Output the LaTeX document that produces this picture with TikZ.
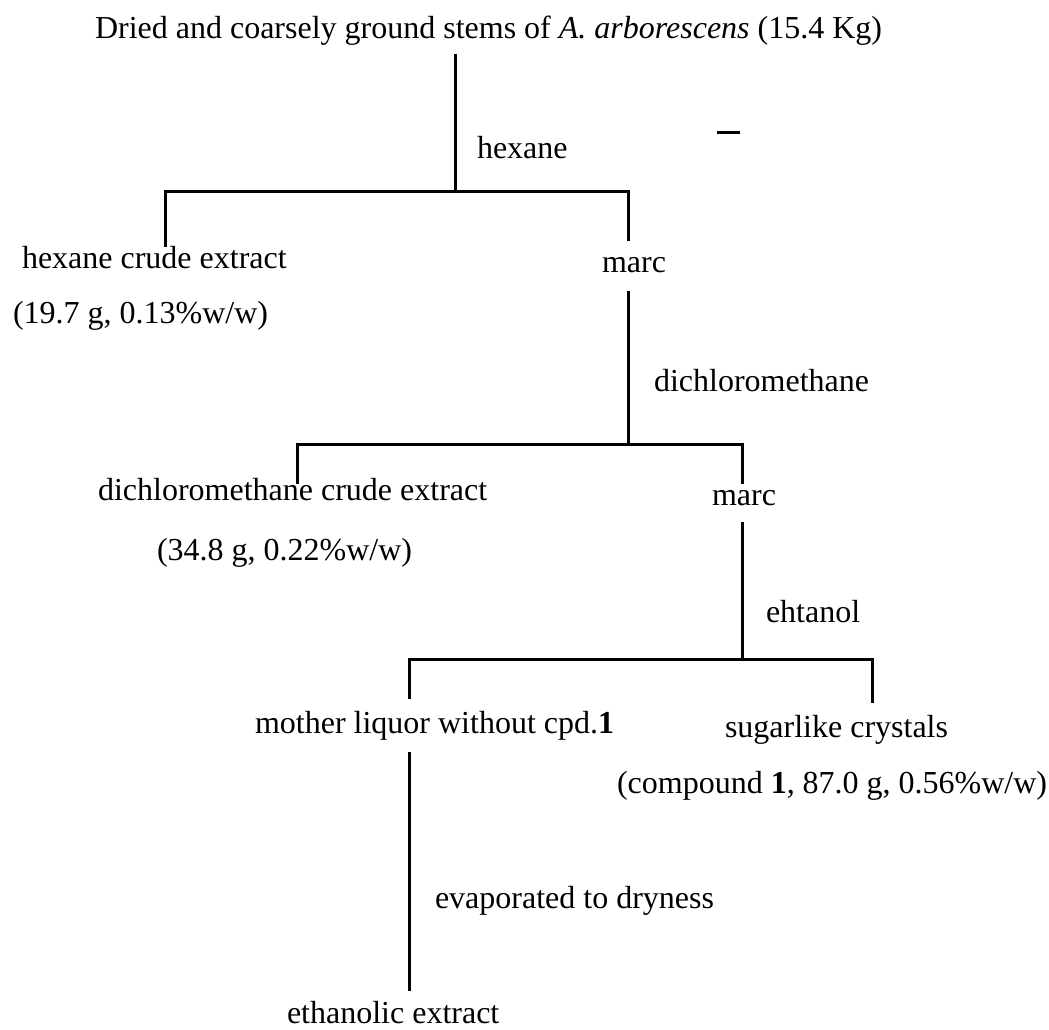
\documentclass[tikz,border=0pt]{standalone}
\usepackage{fontspec}
\setmainfont{Liberation Serif}
\begin{document}
\begin{tikzpicture}[x=0.5pt,y=-0.5pt,
  lbl/.style={anchor=base west, inner sep=0pt, outer sep=0pt,
    text height=11.2pt, text depth=3.5pt, font=\fontsize{16}{19}\selectfont},
  link/.style={line width=1.5pt, line cap=rect}]
\useasboundingbox (0,0) rectangle (1049,1029);
% texts
\node[lbl] (src)   at (95,38)   {Dried and coarsely ground stems of \textit{A. arborescens} (15.4 Kg)};
\node[lbl] (hex)   at (477,158) {hexane};
\node[lbl] (hce)   at (22,268)  {hexane crude extract};
\node[lbl] (marc1) at (602,272) {marc};
\node[lbl] (hcev)  at (13,323)  {(19.7 g, 0.13\%w/w)};
\node[lbl] (dcm)   at (654,391) {dichloromethane};
\node[lbl] (dce)   at (98,500)  {dichloromethane crude extract};
\node[lbl] (marc2) at (712,505) {marc};
\node[lbl] (dcev)  at (157,560) {(34.8 g, 0.22\%w/w)};
\node[lbl] (eth)   at (766,622) {ehtanol};
\node[lbl] (ml)    at (255,733) {mother liquor without cpd.\textbf{1}};
\node[lbl] (sc)    at (725,737) {sugarlike crystals};
\node[lbl] (scv)   at (617,793) {(compound \textbf{1}, 87.0 g, 0.56\%w/w)};
\node[lbl] (evap)  at (435,908) {evaporated to dryness};
\node[lbl] (ee)    at (287,1023){ethanolic extract};
% junctions
\coordinate (s1) at (455,191);
\coordinate (a1) at (165,191);
\coordinate (b1) at (628,191);
\coordinate (a2) at (297,444);
\coordinate (b2) at (742,444);
\coordinate (a3) at (409,659);
\coordinate (b3) at (872,659);
% connectors
\draw[link] ([yshift=-5pt]src.south -| s1) -- (s1);
\draw[link] (hce.north -| a1) |- (b1) -- ([yshift=5pt]marc1.north -| b1);
\draw[link] ([yshift=-6.5pt]marc1.south -| b1) -- (b1 |- a2);
\draw[link] ([yshift=-2.5pt]dce.north -| a2) |- (b2) -- (marc2.north -| b2);
\draw[link] ([yshift=-5.5pt]marc2.south -| b2) -- (b2 |- a3);
\draw[link] ([yshift=6.5pt]ml.north -| a3) |- (b3) -- ([yshift=6.5pt]sc.north -| b3);
\draw[link] ([yshift=-6.5pt]ml.south -| a3) -- ([yshift=5.5pt]ee.north -| a3);
% stray mark
\draw[line width=1.5pt] (717,132) -- (740,132);
\end{tikzpicture}
\end{document}
